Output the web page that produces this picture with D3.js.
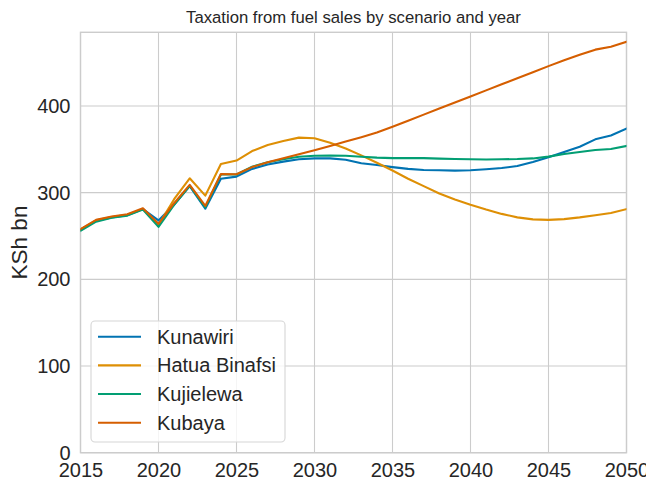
<!DOCTYPE html>
<html>
<head>
<meta charset="utf-8">
<script src="https://cdn.jsdelivr.net/npm/d3@7"></script>
<style>
  html, body { margin: 0; padding: 0; background: #fff; }
  svg { display: block; font-family: "Liberation Sans", Arial, sans-serif; }
</style>
</head>
<body>
<svg id="chart" width="646" height="481"></svg>
<script>
const years = d3.range(2015, 2051);
const kunawiri = [257, 267.5, 271.5, 274, 281, 268, 286, 307.5, 281.5, 316, 318.5, 327.4, 332.5, 335.8, 338.5, 339.5, 339.5, 338, 334, 332, 329.5, 327.4, 326.2, 325.8, 325.4, 325.8, 327, 328.4, 330.7, 335.4, 340.8, 347, 353, 361.5, 366, 374];
const hatuaBinafsi = [257.5, 268, 272, 274.5, 281, 262.5, 292.4, 316.6, 296.6, 333, 337, 348, 355, 359.5, 363.5, 362.7, 357.5, 351, 343, 334.5, 325.5, 316, 307.5, 299, 292, 286, 280.5, 275.5, 271.5, 269.2, 268.6, 269.5, 271.5, 274, 276.5, 281];
const kujielewa = [256, 266.5, 271, 273.5, 280.5, 260.5, 286, 308, 283, 321, 321, 330, 335, 338.5, 341.4, 342.5, 342.7, 342.5, 341.5, 340.4, 339.8, 339.8, 339.8, 339.3, 338.9, 338.5, 338.3, 338.5, 338.8, 339.5, 341.6, 344.5, 347, 349.3, 350.3, 353.8];
const kubaya = [258, 268.6, 272.4, 275, 282, 264, 287.8, 309, 284.7, 321.6, 321.2, 329.5, 335, 339.7, 344.3, 349, 353.9, 358.9, 364, 369.3, 376, 383, 390, 397, 404, 411, 418, 425, 432, 439, 446, 452.7, 459, 465, 468.4, 474];
const seriesNames = ["Kunawiri", "Hatua Binafsi", "Kujielewa", "Kubaya"];
const seriesColors = ["#0173b2", "#de8f05", "#029e73", "#d55e00"];
const xTicks = [2015, 2020, 2025, 2030, 2035, 2040, 2045, 2050];
const yTicks = [0, 100, 200, 300, 400];
const title = "Taxation from fuel sales by scenario and year";
const yLabel = "KSh bn";

const seriesValues = [kunawiri, hatuaBinafsi, kujielewa, kubaya];

const svg = d3.select("#chart");
const m = { left: 80.5, right: 626.5, top: 32.3, bottom: 452.7 };

const x = d3.scaleLinear().domain([2015, 2050]).range([m.left, m.right]);
const y = d3.scaleLinear().domain([0, 485]).range([m.bottom, m.top]);

const grid = svg.append("g");
grid.selectAll("line.vx").data(xTicks).join("line")
  .attr("x1", d => x(d)).attr("x2", d => x(d))
  .attr("y1", m.top).attr("y2", m.bottom)
  .attr("stroke", "#cccccc").attr("stroke-width", 1.1);
grid.selectAll("line.hy").data(yTicks).join("line")
  .attr("x1", m.left).attr("x2", m.right)
  .attr("y1", d => y(d)).attr("y2", d => y(d))
  .attr("stroke", "#cccccc").attr("stroke-width", 1.1);

// frame
svg.append("rect")
  .attr("x", m.left).attr("y", m.top)
  .attr("width", m.right - m.left).attr("height", m.bottom - m.top)
  .attr("fill", "none").attr("stroke", "#cccccc").attr("stroke-width", 1.4);

// axes (tick labels via d3 axes)
const xAxis = svg.append("g")
  .attr("transform", `translate(0,${m.bottom})`)
  .call(d3.axisBottom(x).tickValues(xTicks).tickFormat(d3.format("d")).tickSize(0).tickPadding(8));
const yAxis = svg.append("g")
  .attr("transform", `translate(${m.left},0)`)
  .call(d3.axisLeft(y).tickValues(yTicks).tickSize(0).tickPadding(10));
[xAxis, yAxis].forEach(a => {
  a.select(".domain").remove();
  a.selectAll("text").attr("font-size", 20).attr("fill", "#262626")
    .attr("font-family", '"Liberation Sans", Arial, sans-serif');
});
xAxis.selectAll("text").attr("dy", "0.8em");

// lines
const line = d3.line().x((d, i) => x(years[i])).y(d => y(d));
svg.append("clipPath").attr("id", "clip").append("rect")
  .attr("x", m.left).attr("y", m.top).attr("width", m.right - m.left).attr("height", m.bottom - m.top);
svg.append("g").attr("clip-path", "url(#clip)")
  .selectAll("path").data(seriesValues).join("path")
  .attr("d", d => line(d))
  .attr("fill", "none")
  .attr("stroke", (d, i) => seriesColors[i])
  .attr("stroke-width", 2.1)
  .attr("stroke-linejoin", "round")
  .attr("stroke-linecap", "square");

// title
svg.append("text")
  .attr("x", (m.left + m.right) / 2).attr("y", 23)
  .attr("text-anchor", "middle").attr("font-size", 16.7).attr("fill", "#262626")
  .text(title);

// y label
svg.append("text")
  .attr("transform", `translate(26.5,${(m.top + m.bottom) / 2}) rotate(-90)`)
  .attr("text-anchor", "middle").attr("font-size", 22.5).attr("fill", "#262626")
  .text(yLabel);

// legend
const lg = svg.append("g");
lg.append("rect")
  .attr("x", 91).attr("y", 321).attr("width", 194).attr("height", 121)
  .attr("rx", 4).attr("ry", 4)
  .attr("fill", "#ffffff").attr("fill-opacity", 0.8)
  .attr("stroke", "#d6d6d6").attr("stroke-width", 1.1);
const rowY = d3.scaleLinear().domain([0, 3]).range([336.7, 422.7]);
const items = lg.selectAll("g.item").data(seriesNames).join("g");
items.append("line")
  .attr("x1", 98).attr("x2", 141)
  .attr("y1", (d, i) => rowY(i)).attr("y2", (d, i) => rowY(i))
  .attr("stroke", (d, i) => seriesColors[i]).attr("stroke-width", 2.1);
items.append("text")
  .attr("x", 157).attr("y", (d, i) => rowY(i))
  .attr("dy", "0.35em")
  .attr("font-size", 20).attr("fill", "#262626")
  .text(d => d);
</script>
</body>
</html>
